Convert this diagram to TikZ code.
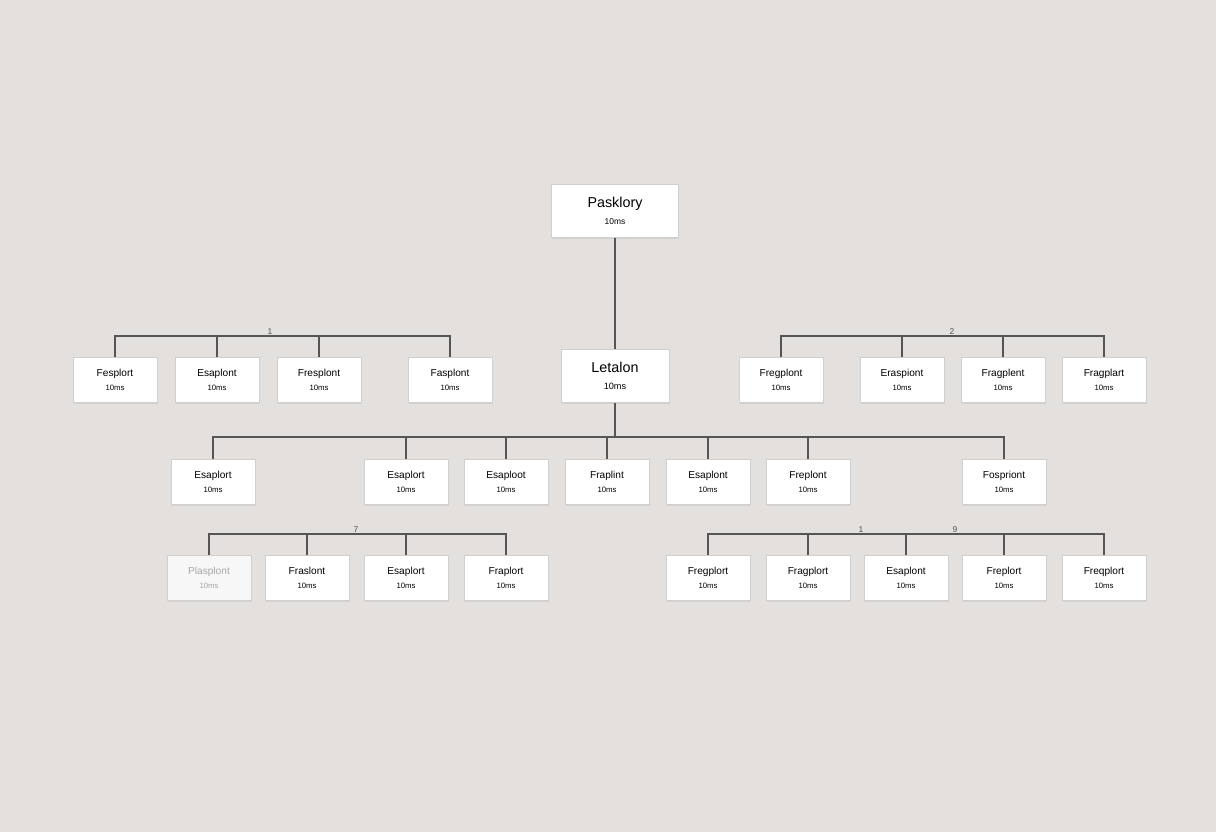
\documentclass[tikz,border=0pt]{standalone}
\usepackage{fontspec}
\setmainfont{Liberation Sans}
\usetikzlibrary{shadows}
\definecolor{paper}{HTML}{E4E0DE}
\definecolor{wire}{HTML}{555555}
\definecolor{edge}{HTML}{CFCFCF}
\tikzset{
  fragbox/.style={draw=edge,fill=white,line width=0.4pt,minimum width=2.1cm,minimum height=1.12cm,
    align=center,inner sep=0pt,drop shadow={shadow xshift=0.6pt,shadow yshift=-0.8pt,opacity=0.15}},
  fadedbox/.style={fragbox,fill=gray!6,text=gray!70},
  bigbox/.style={fragbox,minimum height=1.33cm},
  wires/.style={wire,line width=0.8pt},
  tag/.style={font=\fontsize{6}{7}\selectfont,text=wire,inner sep=1pt,above}
}
\newcommand{\frag}[3]{%
 \node[fragbox] ({#1}) at ({#2}) {{\fontsize{7.2}{8}\selectfont #3}\\[-2pt]{\fontsize{5.5}{6}\selectfont 10ms}};%
}
\newcommand{\fadedfrag}[3]{%
 \node[fadedbox] ({#1}) at ({#2}) {{\fontsize{7.2}{8}\selectfont #3}\\[-2pt]{\fontsize{5.5}{6}\selectfont 10ms}};%
}
\begin{document}
\begin{tikzpicture}[x=0.025cm,y=-0.025cm]
  \fill[paper] (0,0) rectangle (1216,832);
  \useasboundingbox (0,0) rectangle (1216,832);
  % top
  \node[bigbox,minimum width=3.18cm] (root) at (615,211) {{\fontsize{10.2}{12}\selectfont Pasklory}\\[0pt]{\fontsize{6}{7}\selectfont 10ms}};
  \node[bigbox,minimum width=2.7cm] (mid) at (615,376) {{\fontsize{10.2}{12}\selectfont Letalon}\\[0pt]{\fontsize{6.5}{7}\selectfont 10ms}};
  \draw[wires] (root) -- (mid);
  % row 1, left group
  \frag{a1}{115,380}{Fesplort}
  \frag{a2}{217,380}{Esaplont}
  \frag{a3}{319,380}{Fresplont}
  \frag{a4}{450,380}{Fasplont}
  \coordinate (busa) at (450,336);
  \draw[wires] (a1.north) |- (busa) -- (a4.north);
  \foreach \n in {a2,a3} \draw[wires] (\n.north) -- (\n.north |- busa);
  \node[tag] (taga) at (270,336) {1};
  % row 1, right group
  \frag{b1}{781,380}{Fregplont}
  \frag{b2}{902,380}{Eraspiont}
  \frag{b3}{1003,380}{Fragplent}
  \frag{b4}{1104,380}{Fragplart}
  \coordinate (busb) at (1104,336);
  \draw[wires] (b1.north) |- (busb) -- (b4.north);
  \foreach \n in {b2,b3} \draw[wires] (\n.north) -- (\n.north |- busb);
  \node[tag] (tagb) at (952,336) {2};
  % row 2
  \frag{c1}{213,482}{Esaplort}
  \frag{c2}{406,482}{Esaplort}
  \frag{c3}{506,482}{Esaploot}
  \frag{c4}{607,482}{Fraplint}
  \frag{c5}{708,482}{Esaplont}
  \frag{c6}{808,482}{Freplont}
  \frag{c7}{1004,482}{Fospriont}
  \coordinate (busc) at (615,437);
  \draw[wires] (mid) -- (busc);
  \draw[wires] (c1.north) |- (c7.north |- busc) -- (c7.north);
  \foreach \n in {c2,c3,c4,c5,c6} \draw[wires] (\n.north) -- (\n.north |- busc);
  % row 3, left group
  \fadedfrag{d1}{209,578}{Plasplont}
  \frag{d2}{307,578}{Fraslont}
  \frag{d3}{406,578}{Esaplort}
  \frag{d4}{506,578}{Fraplort}
  \coordinate (busd) at (506,534);
  \draw[wires] (d1.north) |- (busd) -- (d4.north);
  \foreach \n in {d2,d3} \draw[wires] (\n.north) -- (\n.north |- busd);
  \node[tag] (tagd) at (356,534) {7};
  % row 3, right group
  \frag{e1}{708,578}{Fregplort}
  \frag{e2}{808,578}{Fragplort}
  \frag{e3}{906,578}{Esaplont}
  \frag{e4}{1004,578}{Freplort}
  \frag{e5}{1104,578}{Freqplort}
  \coordinate (buse) at (1104,534);
  \draw[wires] (e1.north) |- (buse) -- (e5.north);
  \foreach \n in {e2,e3,e4} \draw[wires] (\n.north) -- (\n.north |- buse);
  \node[tag] (tage1) at (861,534) {1};
  \node[tag] (tage2) at (955,534) {9};
\end{tikzpicture}
\end{document}
